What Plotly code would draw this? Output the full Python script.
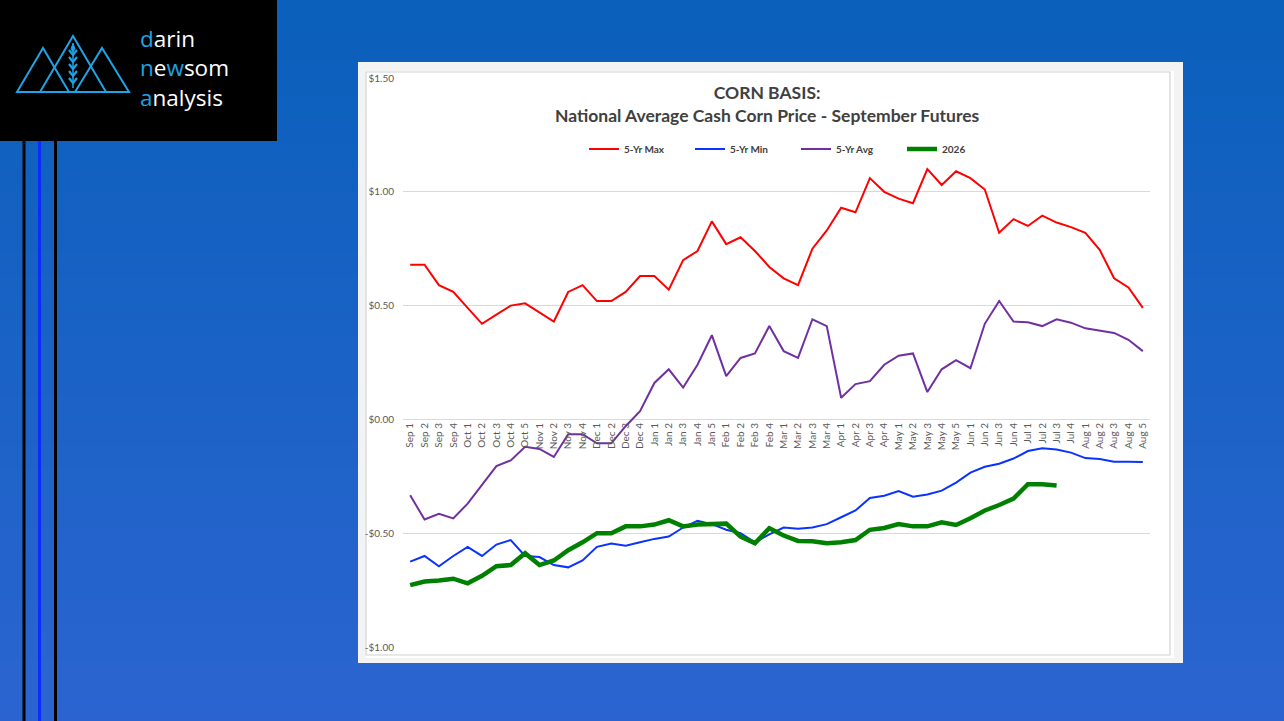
import plotly.graph_objects as go

W, H = 1284, 721

weeks = ["Sep 1", "Sep 2", "Sep 3", "Sep 4",
         "Oct 1", "Oct 2", "Oct 3", "Oct 4", "Oct 5",
         "Nov 1", "Nov 2", "Nov 3", "Nov 4",
         "Dec 1", "Dec 2", "Dec 3", "Dec 4",
         "Jan 1", "Jan 2", "Jan 3", "Jan 4", "Jan 5",
         "Feb 1", "Feb 2", "Feb 3", "Feb 4",
         "Mar 1", "Mar 2", "Mar 3", "Mar 4",
         "Apr 1", "Apr 2", "Apr 3", "Apr 4",
         "May 1", "May 2", "May 3", "May 4", "May 5",
         "Jun 1", "Jun 2", "Jun 3", "Jun 4",
         "Jul 1", "Jul 2", "Jul 3", "Jul 4",
         "Aug 1", "Aug 2", "Aug 3", "Aug 4", "Aug 5"]

max_5yr = [0.68, 0.68, 0.59, 0.56,
           0.49, 0.42, 0.46, 0.50, 0.51,
           0.47, 0.43, 0.56, 0.59,
           0.52, 0.52, 0.56, 0.63,
           0.63, 0.57, 0.70, 0.74, 0.87,
           0.77, 0.80, 0.74, 0.67,
           0.62, 0.59, 0.75, 0.83,
           0.93, 0.91, 1.06, 1.00,
           0.97, 0.95, 1.10, 1.03, 1.09,
           1.06, 1.01, 0.82, 0.88,
           0.85, 0.895, 0.865, 0.845,
           0.82, 0.745, 0.62, 0.58, 0.49]

min_5yr = [-0.625, -0.60, -0.645, -0.60,
           -0.56, -0.60, -0.55, -0.53, -0.60,
           -0.605, -0.64, -0.65, -0.62,
           -0.56, -0.545, -0.555, -0.54,
           -0.525, -0.515, -0.475, -0.445, -0.46,
           -0.485, -0.50, -0.54, -0.505,
           -0.475, -0.48, -0.475, -0.46,
           -0.43, -0.40, -0.345, -0.335,
           -0.315, -0.34, -0.33, -0.313, -0.278,
           -0.234, -0.208, -0.195, -0.172,
           -0.139, -0.127, -0.132, -0.146,
           -0.17, -0.174, -0.186, -0.186, -0.187]

avg_5yr = [-0.333, -0.44, -0.415, -0.435,
           -0.37, -0.29, -0.205, -0.18, -0.12,
           -0.13, -0.165, -0.065, -0.065,
           -0.105, -0.105, -0.03, 0.036,
           0.16, 0.22, 0.14, 0.24, 0.37,
           0.19, 0.27, 0.29, 0.41,
           0.30, 0.27, 0.44, 0.41,
           0.095, 0.155, 0.168, 0.24,
           0.28, 0.29, 0.12, 0.22, 0.26,
           0.225, 0.42, 0.52, 0.43,
           0.427, 0.41, 0.44, 0.425,
           0.40, 0.39, 0.38, 0.35, 0.30]

basis_2026 = [-0.728, -0.712, -0.708, -0.70,
              -0.72, -0.687, -0.645, -0.64, -0.588,
              -0.64, -0.62, -0.575, -0.54,
              -0.50, -0.50, -0.47, -0.47,
              -0.462, -0.443, -0.47, -0.462, -0.462,
              -0.458, -0.515, -0.544, -0.478,
              -0.51, -0.534, -0.535, -0.544,
              -0.54, -0.53, -0.485, -0.477,
              -0.46, -0.47, -0.47, -0.452, -0.464,
              -0.434, -0.40, -0.376, -0.348,
              -0.285, -0.285, -0.29]

y_ticks = [-1.0, -0.5, 0.0, 0.5, 1.0, 1.5]
y_labels = ["-$1.00", "-$0.50", "$0.00", "$0.50", "$1.00", "$1.50"]


# pixel -> paper helpers (margins are zero)
def X(px):
    return px / W


def Y(py):
    return 1 - py / H


def mix(c1, c2, t):
    return "rgb(%d,%d,%d)" % tuple(round(a + (b - a) * t) for a, b in zip(c1, c2))


shapes = []
# slide background gradient
top_c, bot_c = (10, 96, 187), (43, 100, 208)
bands = 60
for i in range(bands):
    shapes.append(dict(type="rect", xref="paper", yref="paper", layer="below",
                       x0=0, x1=1, y0=Y(H * (i + 1) / bands + 1), y1=Y(H * i / bands),
                       fillcolor=mix(top_c, bot_c, i / (bands - 1)), line_width=0))

# left decorative bars
for xp, col in [(24, "black"), (39.5, "#0a2cff"), (55.5, "black")]:
    shapes.append(dict(type="line", xref="paper", yref="paper", layer="below",
                       x0=X(xp), x1=X(xp), y0=Y(141), y1=0, line=dict(color=col, width=3)))

# logo box
shapes.append(dict(type="rect", xref="paper", yref="paper", layer="below",
                   x0=0, x1=X(277), y0=Y(141), y1=1, fillcolor="black", line_width=0))
logo_blue = "#1ea3e6"


def path(pts, close=False):
    s = "M " + " L ".join("%f,%f" % (X(a), Y(b)) for a, b in pts)
    return s + (" Z" if close else "")


for apex_x, apex_y, half in [(43, 48, 26), (73, 36, 33), (102, 48, 27)]:
    shapes.append(dict(type="path", xref="paper", yref="paper", layer="below",
                       path=path([(apex_x - half, 92), (apex_x, apex_y), (apex_x + half, 92)], True),
                       line=dict(color=logo_blue, width=2)))
# wheat ear
shapes.append(dict(type="line", xref="paper", yref="paper", layer="below",
                   x0=X(73), x1=X(73), y0=Y(88), y1=Y(48), line=dict(color=logo_blue, width=1.5)))
for yy in [50, 57, 64, 71, 78]:
    shapes.append(dict(type="path", xref="paper", yref="paper", layer="below",
                       path=path([(69, yy), (73, yy + 5), (77, yy)]),
                       line=dict(color=logo_blue, width=2.2)))
shapes.append(dict(type="path", xref="paper", yref="paper", layer="below",
                   path=path([(73, 43), (75, 49), (73, 52), (71, 49)], True),
                   fillcolor=logo_blue, line=dict(color=logo_blue, width=1)))

# chart panel
shapes.append(dict(type="rect", xref="paper", yref="paper", layer="below",
                   x0=X(358), x1=X(1183), y0=Y(663), y1=Y(62), fillcolor="#f3f3f3", line_width=0))
shapes.append(dict(type="rect", xref="paper", yref="paper", layer="below",
                   x0=X(365), x1=X(1174), y0=Y(658), y1=Y(71), fillcolor="white", line_width=0))
shapes.append(dict(type="rect", xref="paper", yref="paper", layer="below",
                   x0=X(366), x1=X(1170), y0=Y(655), y1=Y(72), fillcolor="white",
                   line=dict(color="#d2d2d2", width=1.2)))

fig = go.Figure()
fig.add_trace(go.Scatter(x=weeks, y=max_5yr, name="5-Yr Max", mode="lines",
                         line=dict(color="#ff0000", width=2)))
fig.add_trace(go.Scatter(x=weeks, y=min_5yr, name="5-Yr Min", mode="lines",
                         line=dict(color="#0a33ff", width=2)))
fig.add_trace(go.Scatter(x=weeks, y=avg_5yr, name="5-Yr Avg", mode="lines",
                         line=dict(color="#7030a0", width=2)))
fig.add_trace(go.Scatter(x=weeks[:len(basis_2026)], y=basis_2026, name="2026", mode="lines",
                         line=dict(color="#008000", width=4.5)))

blue = '<span style="color:%s">%%s</span>' % logo_blue
logo_text = (blue % "d") + "arin<br>" + (blue % "n") + "e" + (blue % "w") + "som<br>" + (blue % "a") + "nalysis"
annotations = [
    dict(text=logo_text, xref="paper", yref="paper", x=X(138), y=Y(68), xanchor="left",
         yanchor="middle", align="left", showarrow=False,
         font=dict(family="Open Sans", size=22.5, color="white")),
    dict(text="<b>CORN BASIS:</b><br><b>National Average Cash Corn Price - September Futures</b>",
         xref="paper", yref="paper", x=X(767), y=Y(104), xanchor="center", yanchor="middle",
         showarrow=False, align="center",
         font=dict(family="Lato", size=17.5, color="#404040")),
]

fig.update_layout(
    width=W, height=H,
    margin=dict(l=0, r=0, t=0, b=0, pad=0, autoexpand=False),
    paper_bgcolor="#1565c0",
    plot_bgcolor="rgba(0,0,0,0)",
    shapes=shapes,
    annotations=annotations,
    showlegend=True,
    legend=dict(orientation="h", x=X(584), y=Y(149), xanchor="left", yanchor="middle",
                bgcolor="rgba(0,0,0,0)", entrywidth=61, entrywidthmode="pixels",
                itemwidth=30, traceorder="normal",
                font=dict(family="Lato", size=10, color="#404040", weight="bold")),
    xaxis=dict(type="category", domain=[X(403), X(1150)], range=[-0.5, 51.5],
               anchor="free", position=Y(420), showgrid=False, zeroline=False,
               showline=False, ticks="", tickangle=-90, automargin=False,
               tickfont=dict(family="Lato", size=10, color="#595959")),
    yaxis=dict(domain=[Y(647), Y(78)], range=[-1.0, 1.5], tickvals=y_ticks, ticktext=y_labels,
               showgrid=True, gridcolor="#d9d9d9", gridwidth=1, zeroline=False, showline=False,
               ticks="", ticklabelstandoff=8, automargin=False,
               tickfont=dict(family="Lato", size=10, color="#595959")),
)

pin = ("document.documentElement.style.margin='0';document.body.style.margin='0';"
       "document.body.style.overflow='hidden';"
       "var d=document.getElementById('{plot_id}');"
       "d.style.position='fixed';d.style.top='0px';d.style.left='0px';")
fig.write_html("out.html", config={"displayModeBar": False}, post_script=pin)
